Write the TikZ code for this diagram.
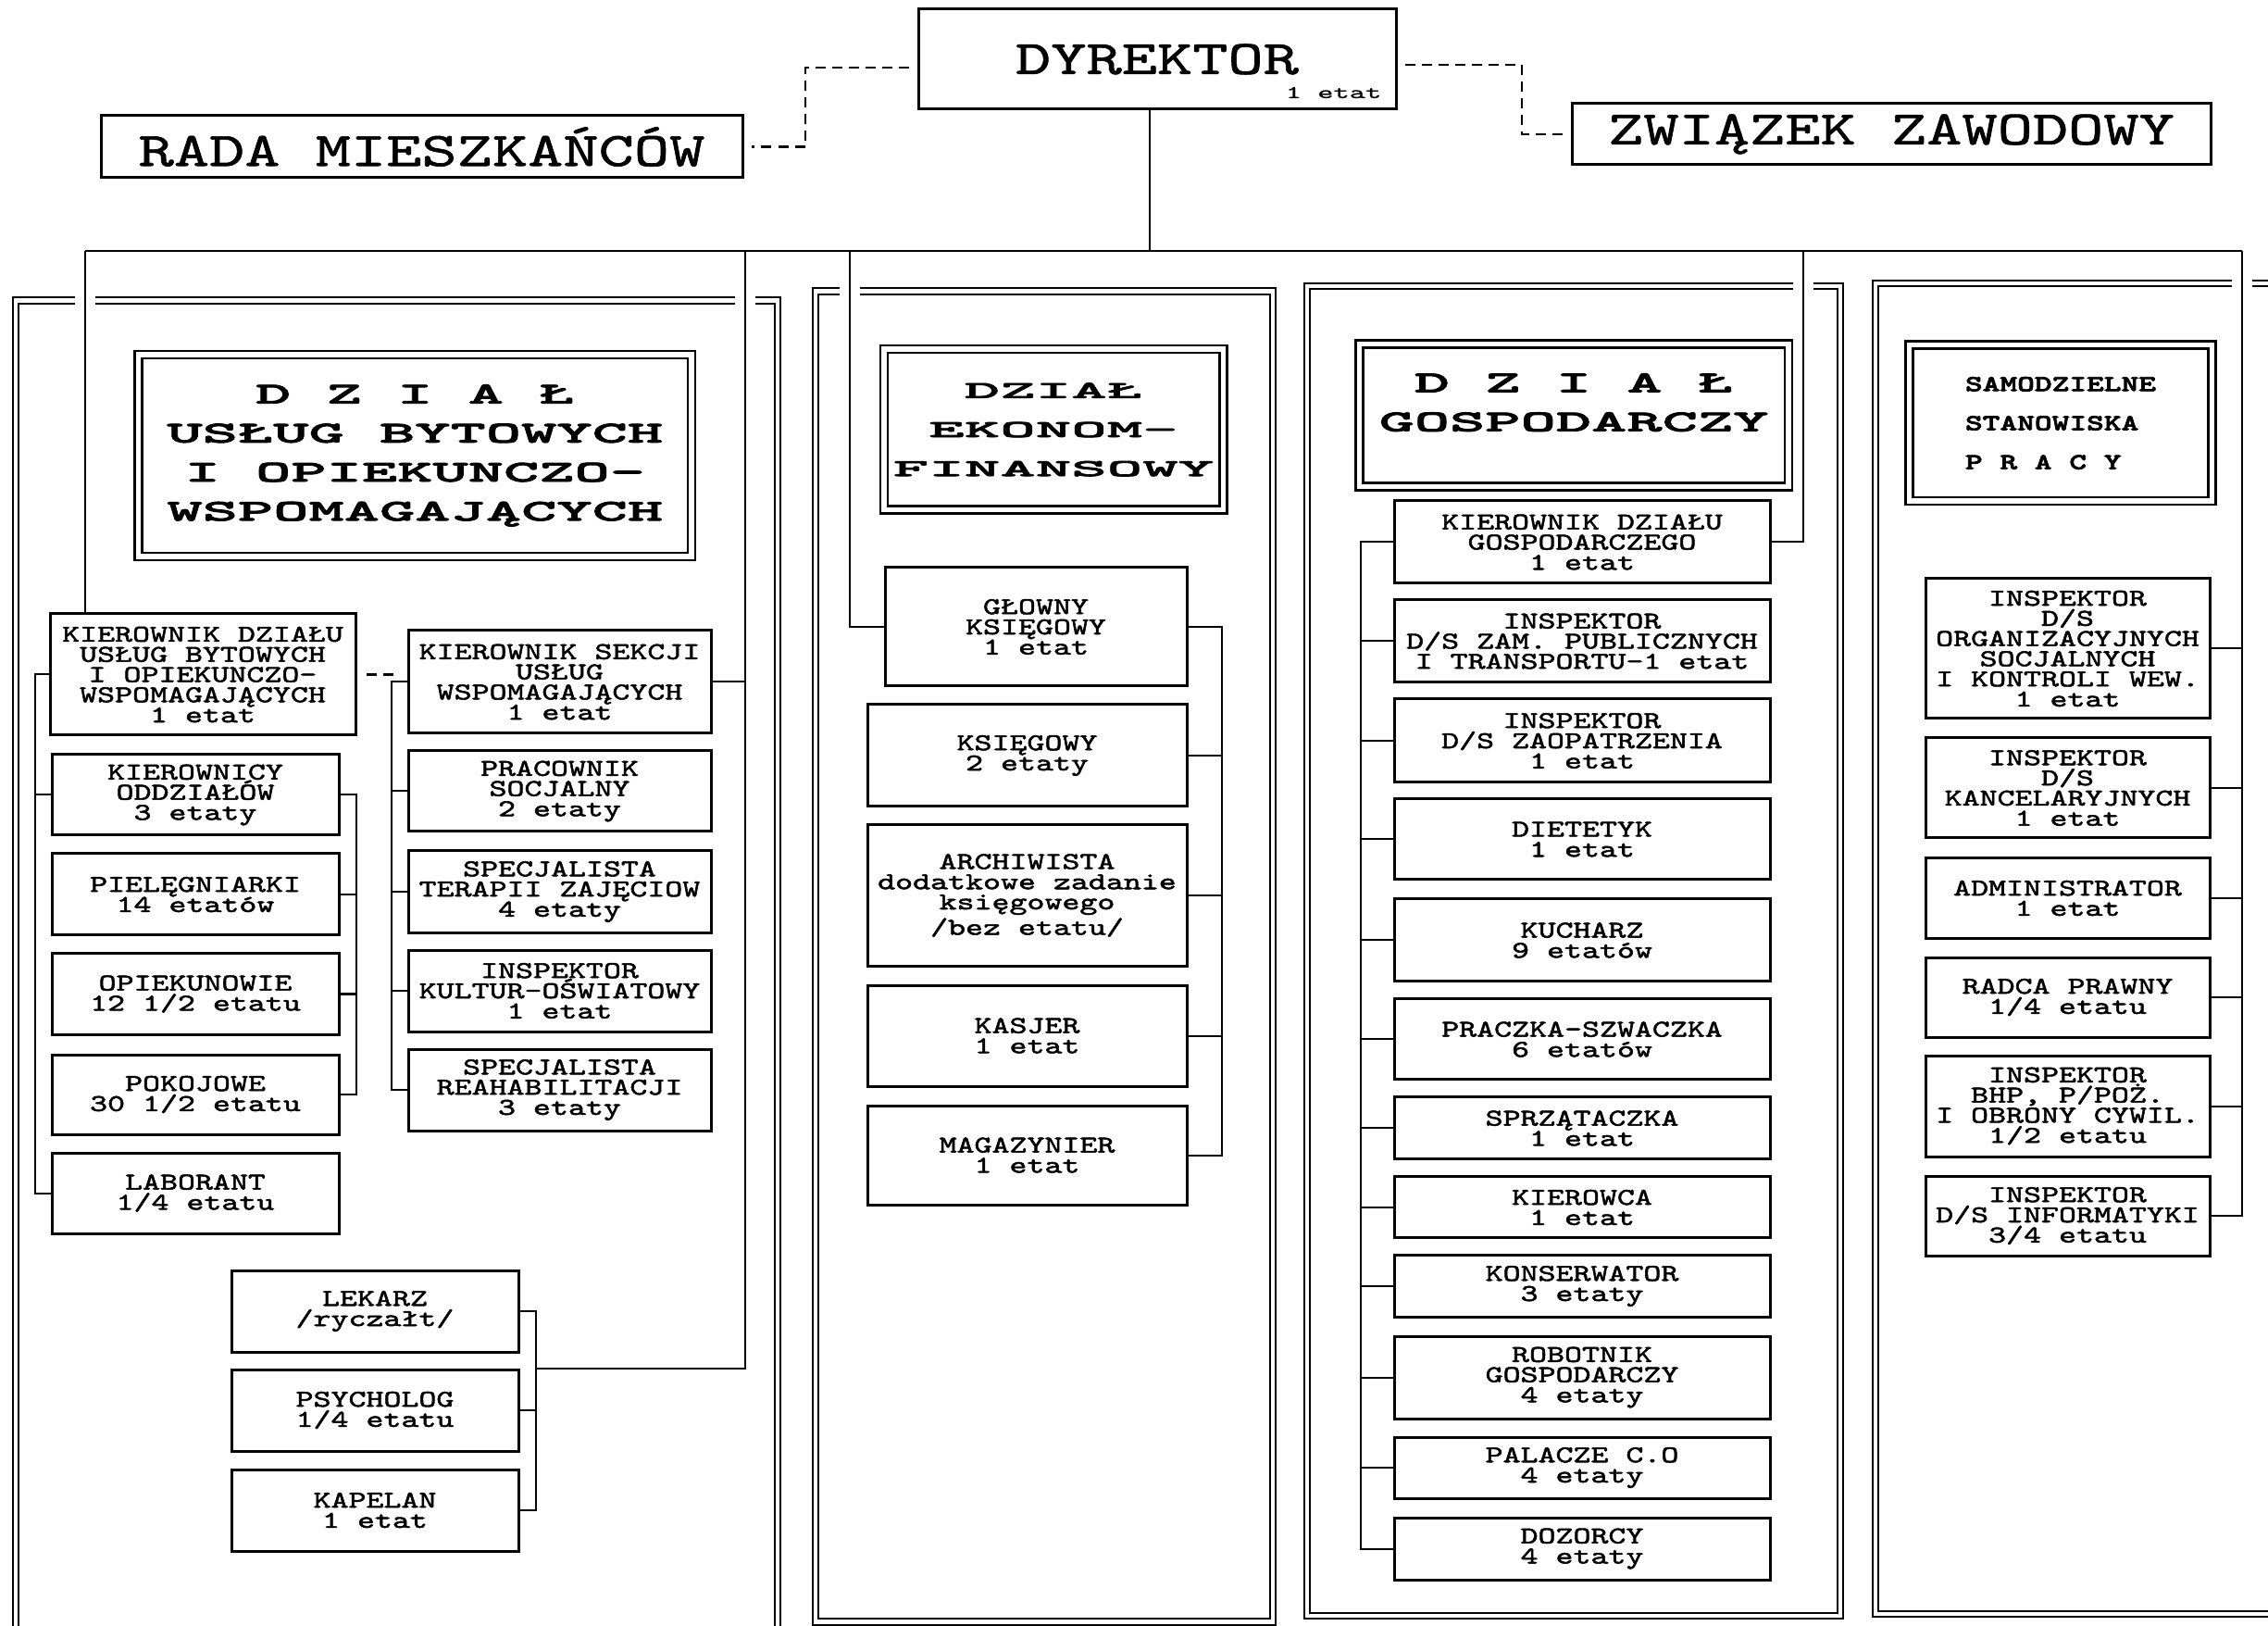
\documentclass[tikz,border=0pt]{standalone}
\usepackage{fontspec}
\setmonofont{Liberation Mono}
\newfontfamily\drukfont[Extension=.otf,FakeBold=2,FakeStretch=1.39]{lmmono10-regular}
\newfontfamily\glowf[Extension=.otf,FakeBold=1.2,FakeStretch=1.4]{lmmono10-regular}
\newfontfamily\malyf[Extension=.otf,FakeBold=1,FakeStretch=1.7]{lmmono10-regular}
\newfontfamily\szerokif[Extension=.otf,FakeBold=2.5,FakeStretch=2.23]{lmmonolt10-bold}
\newfontfamily\ekonf[Extension=.otf,FakeBold=2.5,FakeStretch=2.8]{lmmonolt10-bold}
\newfontfamily\grubyf[Extension=.otf,FakeBold=3,FakeStretch=1.45]{lmmonolt10-bold}
\usetikzlibrary{positioning,calc,backgrounds}
\newcommand{\druk}{\drukfont\fontsize{7.4pt}{6.2pt}\selectfont}
\newcommand{\tytul}{\szerokif\fontsize{9.3pt}{12pt}\selectfont}
\tikzset{
  stan/.style={rectangle, draw, line width=0.03cm, align=center, font=\druk,
               inner sep=0pt, outer sep=0pt, minimum width=#1},
  dzial/.style={rectangle, draw, double, double distance=0.055cm, line width=0.025cm,
                align=center, font=\tytul, inner sep=0pt, outer sep=0pt},
  organ/.style={rectangle, draw, line width=0.03cm, align=center, inner sep=0pt, outer sep=0pt,
                font=\glowf\fontsize{14.8pt}{16pt}\selectfont},
  lacz/.style={line width=0.02cm},
  przer/.style={line width=0.025cm, dash pattern=on 0.11cm off 0.07cm},
  ramka/.style={double, double distance=0.045cm, line width=0.022cm},
  przejscie/.style={preaction={draw=white, line width=0.22cm}},
}

\begin{document}
\begin{tikzpicture}
  \useasboundingbox (0,0) rectangle (24.5,-17.56);

  % dyrekcja
  \node[organ, minimum width=5.16cm, minimum height=1.08cm] (dyr) at (12.50,-0.64) {DYREKTOR};
  \node[font=\malyf\fontsize{5.5pt}{5.5pt}\selectfont, anchor=east, inner sep=0pt] (dyret) at (14.93,-1.00) {1 etat};
  \node[organ, minimum width=6.93cm, minimum height=0.67cm] (rada) at (4.555,-1.585) {RADA MIESZKAŃCÓW};
  \node[organ, minimum width=6.90cm, minimum height=0.66cm] (zw) at (20.43,-1.45) {ZWIĄZEK ZAWODOWY};

  \coordinate (busL) at (0.92,-2.71);
  \coordinate (busR) at (24.22,-2.71);
  \coordinate (busD) at (12.42,-2.71);
  \coordinate (drop1) at (8.05,-2.71);
  \coordinate (drop2) at (9.18,-2.71);
  \coordinate (drop3) at (19.48,-2.71);
  \coordinate (lekbus) at (5.79,-14.78);

  % dzial uslug bytowych
  \node[dzial, minimum width=5.975cm, minimum height=2.18cm] (t1) at (4.483,-4.92)
    {D Z I A Ł\\USŁUG BYTOWYCH\\I OPIEKUNCZO-\\WSPOMAGAJĄCYCH};
  \node[stan=3.30cm, minimum height=1.31cm] (kd) at (2.19,-7.285)
    {KIEROWNIK DZIAŁU\\USŁUG BYTOWYCH\\I OPIEKUNCZO-\\WSPOMAGAJĄCYCH\\1 etat};
  \node[stan=3.10cm, minimum height=0.87cm] (ko) at (2.11,-8.585) {KIEROWNICY\\ODDZIAŁÓW\\3 etaty};
  \node[stan=3.10cm, minimum height=0.88cm, below=0.20cm of ko] (pie) {PIELĘGNIARKI\\14 etatów};
  \node[stan=3.10cm, minimum height=0.87cm, below=0.20cm of pie] (opi) {OPIEKUNOWIE\\12 1/2 etatu};
  \node[stan=3.10cm, minimum height=0.86cm, below=0.22cm of opi] (pok) {POKOJOWE\\30 1/2 etatu};
  \node[stan=3.10cm, minimum height=0.87cm, below=0.20cm of pok] (lab) {LABORANT\\1/4 etatu};
  \node[stan=3.27cm, minimum height=1.11cm] (ks) at (6.045,-7.365)
    {KIEROWNIK SEKCJI\\USŁUG\\WSPOMAGAJĄCYCH\\1 etat};
  \node[stan=3.27cm, minimum height=0.87cm, below=0.19cm of ks] (prac) {PRACOWNIK\\SOCJALNY\\2 etaty};
  \node[stan=3.27cm, minimum height=0.88cm, below=0.21cm of prac] (ter) {SPECJALISTA\\TERAPII ZAJĘCIOW\\4 etaty};
  \node[stan=3.27cm, minimum height=0.88cm, below=0.19cm of ter] (kult) {INSPEKTOR\\KULTUR-OŚWIATOWY\\1 etat};
  \node[stan=3.27cm, minimum height=0.88cm, below=0.19cm of kult] (reh) {SPECJALISTA\\REAHABILITACJI\\3 etaty};
  \node[stan=3.10cm, minimum height=0.88cm] (lek) at (4.05,-14.16) {LEKARZ\\/ryczałt/};
  \node[stan=3.10cm, minimum height=0.88cm, below=0.19cm of lek] (psy) {PSYCHOLOG\\1/4 etatu};
  \node[stan=3.10cm, minimum height=0.88cm, below=0.20cm of psy] (kap) {KAPELAN\\1 etat};

  % dzial ekonomiczno-finansowy
  \node[dzial, font=\ekonf\fontsize{7.45pt}{12pt}\selectfont, minimum width=3.665cm, minimum height=1.735cm] (t2)
    at (11.38,-4.64) {DZIAŁ\\EKONOM-\\FINANSOWY};
  \node[stan=3.26cm, minimum height=1.28cm] (gk) at (11.19,-6.77) {GŁOWNY\\KSIĘGOWY\\1 etat};
  \node[stan=3.45cm, minimum height=1.10cm] (ksg) at (11.095,-8.16) {KSIĘGOWY\\2 etaty};
  \node[stan=3.45cm, minimum height=1.52cm, below=0.20cm of ksg] (arch)
    {ARCHIWISTA\\dodatkowe zadanie\\księgowego\\/bez etatu/};
  \node[stan=3.45cm, minimum height=1.09cm, below=0.21cm of arch] (kas) {KASJER\\1 etat};
  \node[stan=3.45cm, minimum height=1.07cm, below=0.21cm of kas] (mag) {MAGAZYNIER\\1 etat};

  % dzial gospodarczy
  \node[dzial, minimum width=4.635cm, minimum height=1.54cm] (t3) at (17.00,-4.485)
    {D Z I A Ł\\GOSPODARCZY\\[-4pt]\mbox{}};
  \node[stan=4.06cm, minimum height=0.89cm] (kg) at (17.09,-5.855) {KIEROWNIK DZIAŁU\\GOSPODARCZEGO\\1 etat};
  \node[stan=4.06cm, minimum height=0.89cm, below=0.18cm of kg] (zam) {INSPEKTOR\\D/S ZAM. PUBLICZNYCH\\I TRANSPORTU-1 etat};
  \node[stan=4.06cm, minimum height=0.90cm, below=0.18cm of zam] (zao) {INSPEKTOR\\D/S ZAOPATRZENIA\\1 etat};
  \node[stan=4.06cm, minimum height=0.87cm, below=0.18cm of zao] (die) {DIETETYK\\1 etat};
  \node[stan=4.06cm, minimum height=0.89cm, below=0.21cm of die] (kuc) {KUCHARZ\\9 etatów};
  \node[stan=4.06cm, minimum height=0.87cm, below=0.19cm of kuc] (pra) {PRACZKA-SZWACZKA\\6 etatów};
  \node[stan=4.06cm, minimum height=0.67cm, below=0.19cm of pra] (spr) {SPRZĄTACZKA\\1 etat};
  \node[stan=4.06cm, minimum height=0.66cm, below=0.19cm of spr] (kie) {KIEROWCA\\1 etat};
  \node[stan=4.06cm, minimum height=0.66cm, below=0.19cm of kie] (kon) {KONSERWATOR\\3 etaty};
  \node[stan=4.06cm, minimum height=0.89cm, below=0.21cm of kon] (rob) {ROBOTNIK\\GOSPODARCZY\\4 etaty};
  \node[stan=4.06cm, minimum height=0.66cm, below=0.20cm of rob] (pal) {PALACZE C.O\\4 etaty};
  \node[stan=4.06cm, minimum height=0.67cm, below=0.21cm of pal] (doz) {DOZORCY\\4 etaty};

  % samodzielne stanowiska
  \node[dzial, font=\grubyf\fontsize{7pt}{12pt}\selectfont, align=left,
        minimum width=3.27cm, minimum height=1.685cm] (t4) at (22.26,-4.57)
    {SAMODZIELNE\\STANOWISKA\\P R A C Y};
  \node[stan=3.07cm, minimum height=1.51cm] (org) at (22.335,-7.005)
    {INSPEKTOR\\D/S\\ORGANIZACYJNYCH\\SOCJALNYCH\\I KONTROLI WEW.\\1 etat};
  \node[stan=3.07cm, minimum height=1.08cm, below=0.21cm of org] (kan) {INSPEKTOR\\D/S\\KANCELARYJNYCH\\1 etat};
  \node[stan=3.07cm, minimum height=0.86cm, below=0.22cm of kan] (adm) {ADMINISTRATOR\\1 etat};
  \node[stan=3.07cm, minimum height=0.86cm, below=0.21cm of adm] (rad) {RADCA PRAWNY\\1/4 etatu};
  \node[stan=3.07cm, minimum height=1.09cm, below=0.20cm of rad] (bhp) {INSPEKTOR\\BHP, P/POŻ.\\I OBRONY CYWIL.\\1/2 etatu};
  \node[stan=3.07cm, minimum height=0.86cm, below=0.21cm of bhp] (inf) {INSPEKTOR\\D/S INFORMATYKI\\3/4 etatu};

  \begin{pgfonlayer}{background}
    \fill[white] (0,0) rectangle (24.5,-17.56);
    % ramki dzialow
    \draw[ramka] (0.17,-3.245) rectangle (8.40,-17.60);
    \draw[ramka] (8.81,-3.145) rectangle (13.75,-17.515);
    \draw[ramka] (14.12,-3.09) rectangle (19.88,-17.45);
    \draw[ramka] (20.26,-3.06) rectangle (24.80,-17.43);
    % linie przechodzace przez ramki
    \draw[lacz, przejscie] (busL) -- (busL |- kd.north);
    \draw[lacz, przejscie] (drop1) |- (lekbus);
    \draw[lacz, przejscie] (drop2) |- (gk.west);
    \draw[lacz, przejscie] (drop3) |- (kg.east);
    \draw[lacz, przejscie] (busR) |- (inf.east);
    \draw[lacz] (busL) -- (busR);
    \draw[lacz] (busD |- dyr.south) -- (busD);
    % powiazania z dyrektorem
    \draw[przer, shorten <=0.1cm, shorten >=0.1cm] ($(dyr.west)+(0,-0.09)$) -- ++(-1.22,0) |- (rada.east);
    \draw[przer, shorten <=0.1cm, shorten >=0.1cm] ($(dyr.east)+(0,-0.06)$) -- ++(1.36,0) |- (zw.west);
    % dzial uslug bytowych
    \draw[przer, shorten <=0.12cm, shorten >=0.12cm] (kd.east) -- (kd.east -| ks.west);
    \draw[lacz] (kd.west) -- ++(-0.16,0) coordinate (kdl) |- (lab.west);
    \draw[lacz] (ko.west) -- (ko.west -| kdl);
    \draw[lacz] (ko.east) -- ++(0.19,0) coordinate (kor) |- (pok.east);
    \foreach \n in {pie,opi} \draw[lacz] (\n.east) -- (\n.east -| kor);
    \draw[lacz] (ks.west) -- ++(-0.18,0) coordinate (ksl) |- (reh.west);
    \foreach \n in {prac,ter,kult} \draw[lacz] (\n.west) -- (\n.west -| ksl);
    \draw[lacz] (ks.east) -- (ks.east -| drop1);
    \draw[lacz] (lek.east) -- (lek.east -| lekbus) |- (kap.east);
    \draw[lacz] (psy.east) -- (psy.east -| lekbus);
    % dzial ekonomiczno-finansowy
    \draw[lacz] (gk.east) -- ++(0.38,0) coordinate (gkr) |- (mag.east);
    \foreach \n in {ksg,arch,kas} \draw[lacz] (\n.east) -- (\n.east -| gkr);
    % dzial gospodarczy
    \draw[lacz] (kg.west) -- ++(-0.36,0) coordinate (kgl) |- (doz.west);
    \foreach \n in {zam,zao,die,kuc,pra,spr,kie,kon,rob,pal} \draw[lacz] (\n.west) -- (\n.west -| kgl);
    % samodzielne stanowiska
    \foreach \n in {org,kan,adm,rad,bhp} \draw[lacz] (\n.east) -- (\n.east -| busR);
  \end{pgfonlayer}
\end{tikzpicture}
\end{document}
